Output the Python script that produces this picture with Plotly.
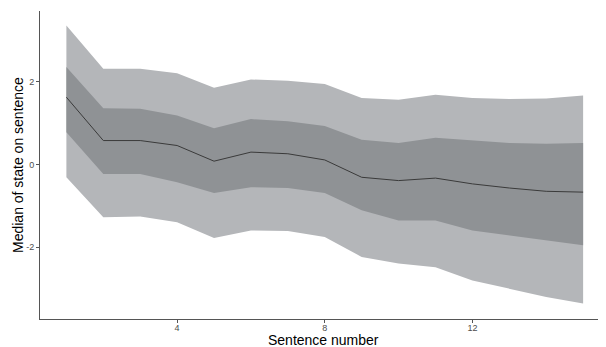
import plotly.graph_objects as go

sentence = list(range(1, 16))
median = [1.63, 0.58, 0.58, 0.46, 0.08, 0.30, 0.26, 0.11, -0.31, -0.39, -0.33, -0.47, -0.57, -0.65, -0.67]
inner_upper = [2.36, 1.36, 1.35, 1.19, 0.88, 1.10, 1.05, 0.93, 0.60, 0.52, 0.65, 0.58, 0.52, 0.50, 0.52]
inner_lower = [0.78, -0.23, -0.23, -0.43, -0.69, -0.55, -0.57, -0.69, -1.11, -1.36, -1.36, -1.60, -1.72, -1.84, -1.96]
outer_upper = [3.37, 2.32, 2.32, 2.21, 1.86, 2.06, 2.03, 1.95, 1.61, 1.57, 1.69, 1.61, 1.59, 1.60, 1.67]
outer_lower = [-0.31, -1.28, -1.26, -1.40, -1.78, -1.60, -1.61, -1.76, -2.24, -2.40, -2.49, -2.81, -3.01, -3.21, -3.37]
x_ticks = [4, 8, 12]
y_ticks = [-2, 0, 2]

fig = go.Figure()
fig.add_trace(go.Scatter(x=sentence + sentence[::-1], y=outer_upper + outer_lower[::-1],
                         fill="toself", fillcolor="#b4b6b9", line=dict(width=0),
                         mode="lines", hoverinfo="skip", showlegend=False))
fig.add_trace(go.Scatter(x=sentence + sentence[::-1], y=inner_upper + inner_lower[::-1],
                         fill="toself", fillcolor="#8f9295", line=dict(width=0),
                         mode="lines", hoverinfo="skip", showlegend=False))
fig.add_trace(go.Scatter(x=sentence, y=median, mode="lines",
                         line=dict(color="#3a3a3a", width=1), showlegend=False))

# page body has an 8px default margin, so the figure is sized to fit the window
fig.update_layout(
    width=598, height=339,
    margin=dict(l=32, r=0, t=3, b=28, autoexpand=False),
    paper_bgcolor="white", plot_bgcolor="white",
    font=dict(family="Liberation Sans, Arial, sans-serif"),
    annotations=[
        dict(text="Sentence number", xref="paper", yref="paper", x=0.5, y=0,
             xanchor="center", yanchor="middle", yshift=-21, showarrow=False,
             font=dict(size=14, color="black")),
        dict(text="Median of state on sentence", xref="paper", yref="paper", x=0, y=0.5,
             xanchor="center", yanchor="middle", xshift=-22, textangle=-90, showarrow=False,
             font=dict(size=14, color="black")),
    ],
)
fig.update_xaxes(range=[0.285, 15.62], tickvals=x_ticks, ticktext=[str(v) for v in x_ticks],
                 showgrid=False, zeroline=False, showline=True, linecolor="#555555", linewidth=1,
                 ticks="outside", ticklen=3, tickcolor="#555555", automargin=False,
                 ticklabelstandoff=-3,
                 tickfont=dict(size=9, color="#4d4d4d"))
fig.update_yaxes(range=[-3.745, 3.72], tickvals=y_ticks, ticktext=[str(v) for v in y_ticks],
                 showgrid=False, zeroline=False, showline=True, linecolor="#555555", linewidth=1,
                 ticks="outside", ticklen=3, tickcolor="#555555", automargin=False,
                 tickfont=dict(size=9, color="#4d4d4d"))

fig.write_html("out.html")
